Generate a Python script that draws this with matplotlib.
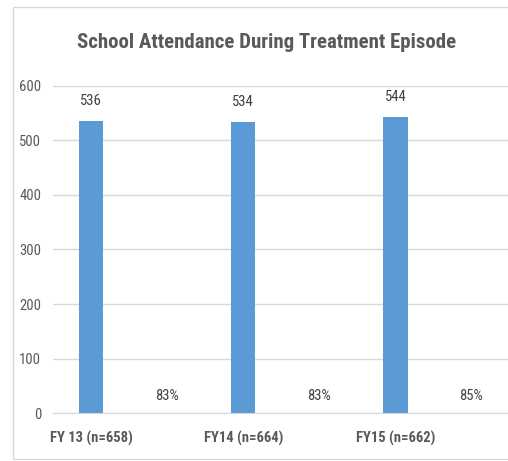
import matplotlib.pyplot as plt
from matplotlib.patches import Rectangle
import numpy as np

plt.rcParams['font.family'] = ['Roboto Condensed', 'DejaVu Sans']

categories = ['FY 13 (n=658)', 'FY14 (n=664)', 'FY15 (n=662)']
attended = [536, 534, 544]
attended_pct = [0.83, 0.83, 0.85]
pct_labels = ['83%', '83%', '85%']

fig = plt.figure(figsize=(5.08, 4.61), dpi=100)
ax = fig.add_axes([53 / 508, 48 / 461, 1 - 53 / 508 + 0.003, (413 - 86) / 461])

# outer chart frame
fig.patches.append(Rectangle((13 / 508, 2 / 461), 1.2, (454 - 2) / 461,
                             transform=fig.transFigure, fill=False,
                             edgecolor='#D9D9D9', linewidth=1))

x = np.arange(len(categories))
b1 = ax.bar(x - 0.25, attended, width=0.16, color='#5B9BD5', zorder=3)
b2 = ax.bar(x + 0.25, attended_pct, width=0.16, color='#ED7D31', zorder=3)

for rect, v in zip(b1, attended):
    ax.annotate(str(v), (rect.get_x() + rect.get_width() / 2, v),
                xytext=(0, 13), textcoords='offset pixels', ha='center', va='bottom',
                fontsize=10.5, color='#404040')
for rect, v, lab in zip(b2, attended_pct, pct_labels):
    ax.annotate(lab, (rect.get_x() + rect.get_width() / 2, v),
                xytext=(0, 10), textcoords='offset pixels', ha='center', va='bottom',
                fontsize=10.5, color='#404040')

ax.set_xlim(-0.5, 2.5)
ax.set_ylim(0, 600)
ax.set_yticks(range(0, 601, 100))
ax.set_xticks(x - 0.25)
ax.set_xticklabels(categories, fontsize=10.5, fontweight='bold', color='#595959')
ax.tick_params(axis='y', labelsize=10.5, labelcolor='#595959', length=0, pad=8.5)
ax.tick_params(axis='x', length=0, pad=13)
ax.yaxis.grid(True, color='#D9D9D9', linewidth=1, zorder=0)
for s in ['top', 'right', 'left']:
    ax.spines[s].set_visible(False)
ax.spines['bottom'].set_color('#D9D9D9')

fig.text(267 / 508, 1 - 43 / 461, 'School Attendance During Treatment Episode',
         ha='center', va='center', fontsize=15, fontweight='bold', color='#595959')

fig.savefig('out.png', dpi=100)
